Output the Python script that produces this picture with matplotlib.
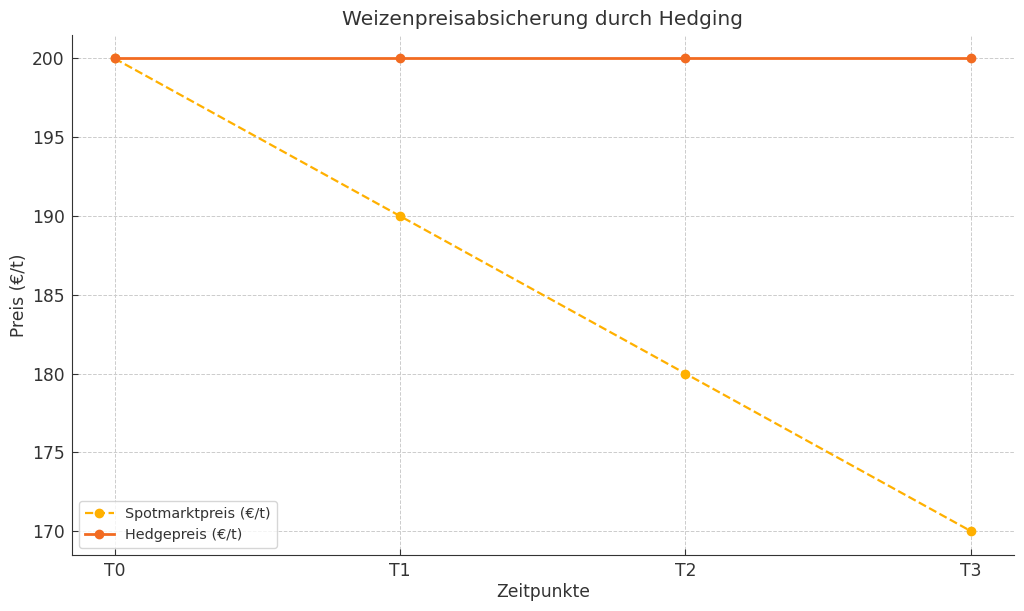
import numpy as np
import matplotlib.pyplot as plt

zeitpunkte = ["T0", "T1", "T2", "T3"]
spotpreis = [200, 190, 180, 170]
hedgepreis = [200, 200, 200, 200]

plt.rcParams['font.family'] = ['DejaVu Sans']
plt.rcParams['text.color'] = '#333333'
plt.rcParams['axes.labelcolor'] = '#333333'
plt.rcParams['xtick.color'] = '#333333'
plt.rcParams['ytick.color'] = '#333333'

fig, ax = plt.subplots(figsize=(10.24, 6.11), dpi=100)
x = np.arange(len(zeitpunkte))
ax.plot(x, spotpreis, linestyle='--', marker='o', color='#FFB000', linewidth=1.6,
        markersize=6, label="Spotmarktpreis (€/t)")
ax.plot(x, hedgepreis, linestyle='-', marker='o', color='#F26B21', linewidth=2,
        markersize=6, label="Hedgepreis (€/t)")

ax.set_xticks(x)
ax.set_xticklabels(zeitpunkte)
ax.set_title("Weizenpreisabsicherung durch Hedging", fontsize=14.5, pad=7)
ax.set_xlabel("Zeitpunkte", fontsize=12.3, labelpad=2)
ax.set_ylabel("Preis (€/t)", fontsize=12.3, labelpad=2.5)
ax.tick_params(labelsize=12.3, direction='in', length=4, pad=5)
ax.grid(True, linestyle='--', color='#cccccc', linewidth=0.7)
for s in ['top', 'right']:
    ax.spines[s].set_visible(False)
for s in ['left', 'bottom']:
    ax.spines[s].set_color('#333333')
ax.legend(loc='lower left', fontsize=10.4)

plt.subplots_adjust(left=0.070, right=0.990, top=0.943, bottom=0.092)
plt.savefig("out.png", dpi=100)
